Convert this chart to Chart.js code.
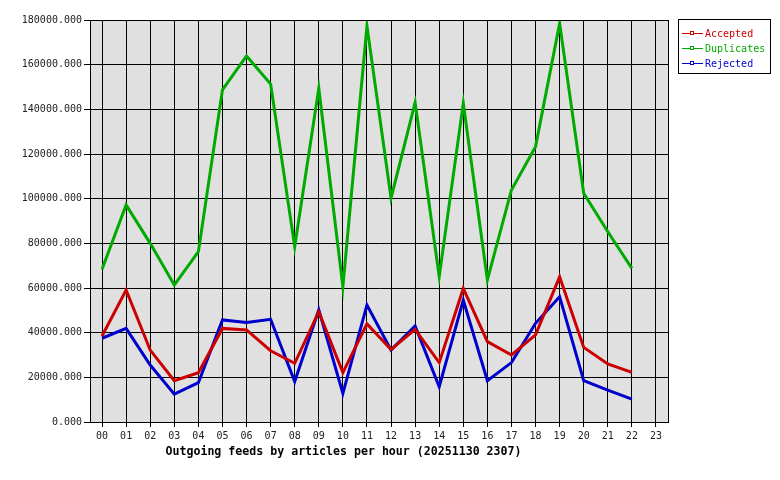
<!DOCTYPE html>
<html>
<head>
<meta charset="utf-8">
<script src="https://cdn.jsdelivr.net/npm/chart.js@4"></script>
<style>
  body { margin: 0; background: #fff; }
  #wrap { width: 780px; height: 480px; }
</style>
</head>
<body>
<div id="wrap"><canvas id="canvas-feeds" width="780" height="480"></canvas></div>
<script>
// hours 00..23, last hour has no data yet
const hours = ['00','01','02','03','04','05','06','07','08','09','10','11',
               '12','13','14','15','16','17','18','19','20','21','22','23'];

const accepted = [38500, 59100, 32200, 18500, 22100, 41900, 41200, 31900, 26300, 49400, 22100, 43900,
                  32500, 41500, 26600, 59800, 36000, 30000, 39000, 65000, 33400, 26000, 22200, null];

const duplicates = [68400, 97200, 80000, 61300, 76300, 148700, 163900, 151300, 78500, 149400, 60600, 177300,
                    100200, 143000, 65100, 142700, 63600, 103900, 123300, 178500, 102400, 85200, 68800, null];

const rejected = [37500, 41900, 25500, 12500, 17600, 45700, 44600, 46000, 18100, 50200, 12800, 52400,
                  32200, 43000, 15800, 54600, 18500, 26600, 44200, 56100, 18500, 14300, 10200, null];

const yTicks = [0, 20000, 40000, 60000, 80000, 100000, 120000, 140000, 160000, 180000];

const chartTitle = 'Outgoing feeds by articles per hour (20251130 2307)';

const monoFont = 'DejaVu Sans Mono';

//plot background + frame
const plotFrame = {
    id: 'plotFrame',
    beforeDraw(chart) {
        const a = chart.chartArea;
        const ctx = chart.ctx;
        ctx.save();
        ctx.fillStyle = '#e0e0e0';
        ctx.fillRect(a.left, a.top, a.right - a.left, a.bottom - a.top);
        ctx.restore();
    },
    afterDraw(chart) {
        const a = chart.chartArea;
        const ctx = chart.ctx;
        ctx.save();
        ctx.strokeStyle = '#000';
        ctx.lineWidth = 1;
        ctx.strokeRect(Math.round(a.left) + 0.5, Math.round(a.top) + 0.5,
                       Math.round(a.right - a.left), Math.round(a.bottom - a.top));

        //title under the axis
        ctx.fillStyle = '#000';
        ctx.font = 'bold 11.6px "' + monoFont + '"';
        ctx.textAlign = 'center';
        ctx.textBaseline = 'middle';
        ctx.fillText(chartTitle, 343.5, 452);

        //legend box top right
        ctx.strokeStyle = '#000';
        ctx.strokeRect(678.5, 19.5, 92, 54);
        ctx.font = '10px "' + monoFont + '"';
        ctx.textAlign = 'left';
        chart.data.datasets.forEach((ds, i) => {
            const y = 33 + i * 15;
            ctx.strokeStyle = ds.borderColor;
            ctx.beginPath();
            ctx.moveTo(682, y + 0.5);
            ctx.lineTo(703, y + 0.5);
            ctx.stroke();
            ctx.fillStyle = '#fff';
            ctx.fillRect(690, y - 1, 4, 3);
            ctx.strokeRect(690.5, y - 1.5, 3, 3);
            ctx.fillStyle = ds.borderColor;
            ctx.fillText(ds.label, 705, y + 1);
        });
        ctx.restore();
    }
};

const ctx = document.getElementById('canvas-feeds').getContext('2d');
const feedChart = new Chart(ctx, {
    type: 'line',
    data: {
        labels: hours,
        datasets: [
            { label: 'Accepted', data: accepted, borderColor: '#cc0000' },
            { label: 'Duplicates', data: duplicates, borderColor: '#00aa00' },
            { label: 'Rejected', data: rejected, borderColor: '#0000cc' }
        ]
    },
    options: {
        responsive: false,
        animation: false,
        layout: { padding: { left: 0, top: 20, right: 112, bottom: 0 } },
        elements: {
            line: { borderWidth: 3, tension: 0, fill: false, borderJoinStyle: 'miter' },
            point: { radius: 0, hoverRadius: 0 }
        },
        plugins: {
            legend: { display: false },
            tooltip: { enabled: false },
            title: { display: false }
        },
        scales: {
            x: {
                offset: true,
                grid: { color: '#000', lineWidth: 1, tickLength: 5, offset: false, drawOnChartArea: true },
                border: { display: true, color: '#000' },
                ticks: { color: '#222', font: { family: monoFont, size: 10 }, padding: 3, maxRotation: 0, autoSkip: false },
                afterFit(scale) { scale.height = 58; }
            },
            y: {
                min: 0,
                max: 180000,
                afterBuildTicks(scale) { scale.ticks = yTicks.map(v => ({ value: v })); },
                grid: { color: '#000', lineWidth: 1, tickLength: 6 },
                border: { display: true, color: '#000' },
                ticks: {
                    color: '#222',
                    font: { family: monoFont, size: 10 },
                    padding: 2,
                    callback: v => Number(v).toFixed(3)
                },
                afterFit(scale) { scale.width = 90; }
            }
        }
    },
    plugins: [plotFrame]
});
</script>
</body>
</html>
